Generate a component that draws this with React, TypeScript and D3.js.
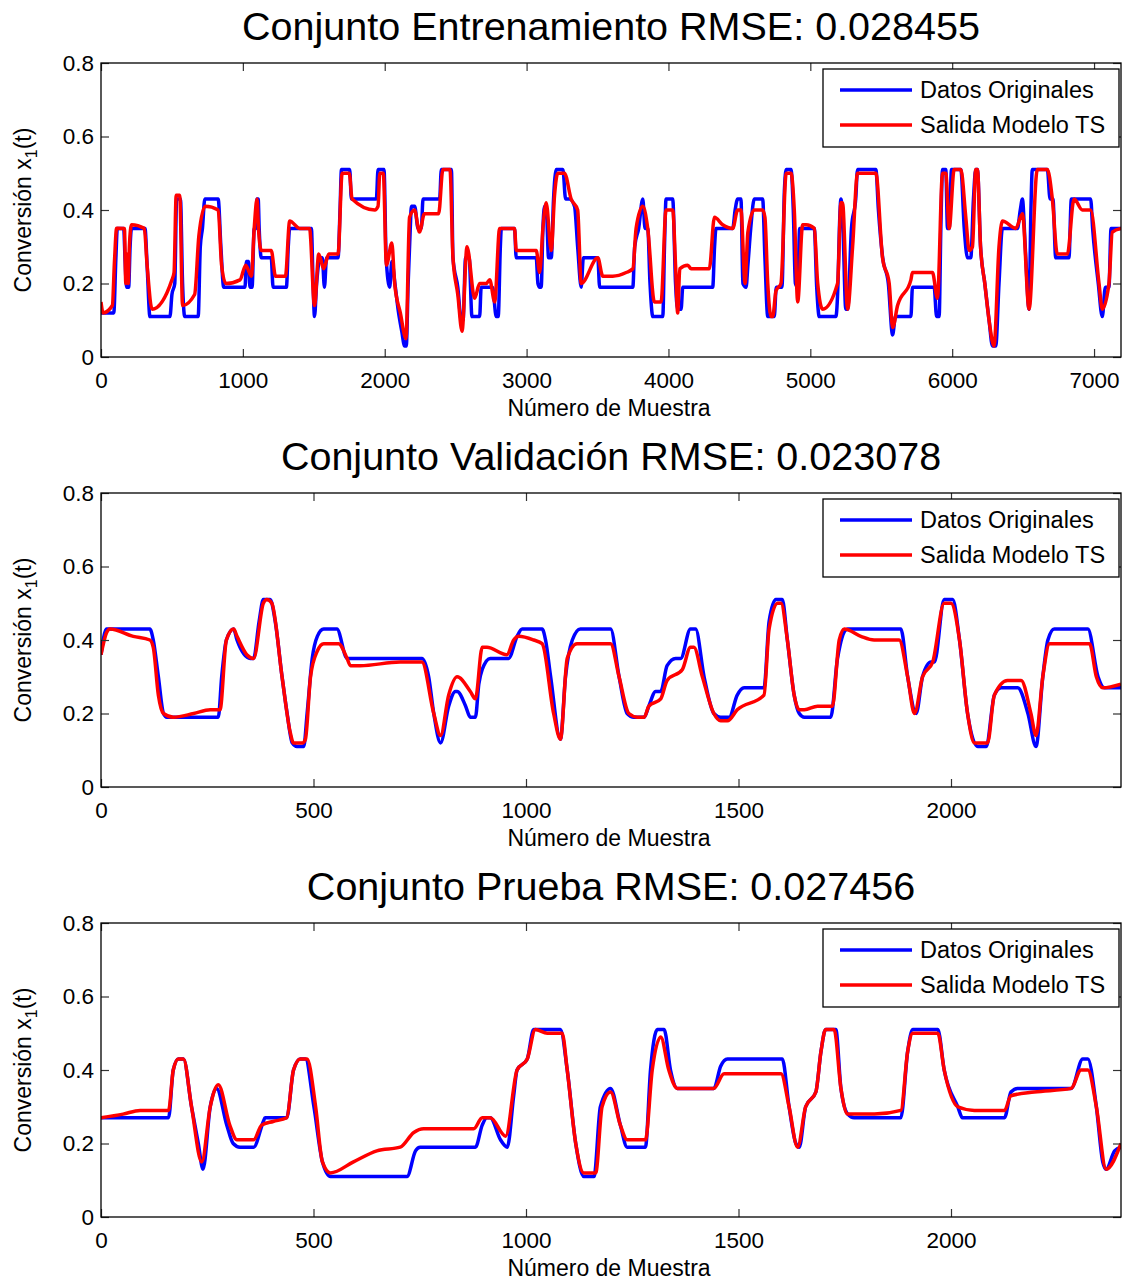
import React, { useEffect, useRef } from 'react'
import * as d3 from 'd3'

type Pt = [number, number]

// tick values / labels
const yTicks = [0, 0.2, 0.4, 0.6, 0.8]
const trainTicks = [0, 1000, 2000, 3000, 4000, 5000, 6000, 7000]
const shortTicks = [0, 500, 1000, 1500, 2000]
const legendLabels = ['Datos Originales', 'Salida Modelo TS']
const titles = [
  'Conjunto Entrenamiento RMSE: 0.028455',
  'Conjunto Validación RMSE: 0.023078',
  'Conjunto Prueba RMSE: 0.027456',
]
const xLabel = 'Número de Muestra'

// [sample, conversion]
const trainOriginal: Pt[] = [
  [0, 0.12], [90, 0.12], [105, 0.27], [115, 0.35], [160, 0.35], [170, 0.26], [180, 0.19], [195, 0.19], [205, 0.3], [215, 0.35],
  [310, 0.35], [325, 0.25], [345, 0.11], [486, 0.11], [500, 0.17], [520, 0.2], [533, 0.43], [560, 0.43], [575, 0.2], [590, 0.11],
  [685, 0.11], [700, 0.3], [715, 0.35], [732, 0.43], [826, 0.43], [845, 0.3], [865, 0.19], [1015, 0.19], [1025, 0.26], [1040, 0.26],
  [1050, 0.19], [1065, 0.19], [1080, 0.35], [1095, 0.35], [1100, 0.43], [1108, 0.43], [1115, 0.35], [1130, 0.27], [1200, 0.27],
  [1213, 0.19], [1307, 0.19], [1320, 0.3], [1330, 0.35], [1483, 0.35], [1495, 0.2], [1505, 0.11], [1520, 0.2], [1545, 0.27],
  [1560, 0.27], [1575, 0.19], [1590, 0.27], [1671, 0.27], [1685, 0.4], [1695, 0.51], [1753, 0.51], [1765, 0.43], [1941, 0.43],
  [1953, 0.51], [1995, 0.51], [2010, 0.27], [2035, 0.19], [2050, 0.26], [2075, 0.19], [2094, 0.13], [2120, 0.07], [2140, 0.03],
  [2152, 0.03], [2165, 0.2], [2180, 0.35], [2188, 0.41], [2211, 0.41], [2235, 0.35], [2258, 0.35], [2270, 0.43], [2387, 0.43],
  [2399, 0.51], [2470, 0.51], [2481, 0.27], [2515, 0.19], [2540, 0.1], [2552, 0.1], [2570, 0.27], [2595, 0.27], [2615, 0.11],
  [2669, 0.11], [2680, 0.19], [2760, 0.19], [2786, 0.11], [2800, 0.11], [2815, 0.3], [2822, 0.35], [2915, 0.35], [2927, 0.27],
  [3068, 0.27], [3080, 0.2], [3092, 0.19], [3103, 0.19], [3115, 0.35], [3127, 0.41], [3138, 0.41], [3155, 0.27], [3174, 0.27],
  [3190, 0.43], [3209, 0.51], [3256, 0.51], [3275, 0.43], [3303, 0.43], [3338, 0.41], [3360, 0.3], [3385, 0.19], [3400, 0.27],
  [3502, 0.27], [3515, 0.19], [3749, 0.19], [3762, 0.3], [3790, 0.35], [3819, 0.43], [3835, 0.35], [3854, 0.35], [3870, 0.2],
  [3890, 0.11], [3960, 0.11], [3972, 0.3], [3983, 0.43], [4030, 0.43], [4050, 0.2], [4065, 0.13], [4089, 0.13], [4101, 0.19],
  [4312, 0.19], [4325, 0.3], [4335, 0.35], [4453, 0.35], [4470, 0.4], [4488, 0.43], [4511, 0.43], [4525, 0.2], [4547, 0.19],
  [4560, 0.25], [4580, 0.35], [4605, 0.43], [4664, 0.43], [4680, 0.27], [4700, 0.11], [4746, 0.11], [4760, 0.19], [4800, 0.19],
  [4817, 0.45], [4830, 0.51], [4864, 0.51], [4880, 0.4], [4895, 0.2], [4911, 0.19], [4925, 0.35], [5028, 0.35], [5045, 0.19],
  [5063, 0.11], [5180, 0.11], [5195, 0.2], [5205, 0.35], [5216, 0.43], [5230, 0.35], [5250, 0.13], [5263, 0.13], [5290, 0.35],
  [5320, 0.43], [5333, 0.51], [5462, 0.51], [5480, 0.4], [5510, 0.27], [5550, 0.2], [5580, 0.06], [5600, 0.11], [5709, 0.11],
  [5720, 0.19], [5873, 0.19], [5890, 0.11], [5908, 0.11], [5920, 0.35], [5932, 0.51], [5955, 0.51], [5967, 0.35], [5979, 0.35],
  [5995, 0.51], [6061, 0.51], [6085, 0.35], [6108, 0.27], [6131, 0.27], [6150, 0.43], [6166, 0.51], [6178, 0.51], [6200, 0.3],
  [6230, 0.2], [6260, 0.1], [6284, 0.03], [6307, 0.03], [6330, 0.2], [6354, 0.35], [6460, 0.35], [6480, 0.4], [6495, 0.43],
  [6515, 0.3], [6542, 0.13], [6555, 0.4], [6565, 0.51], [6671, 0.51], [6690, 0.43], [6710, 0.43], [6730, 0.27], [6823, 0.27],
  [6840, 0.43], [6976, 0.43], [6990, 0.35], [7030, 0.2], [7058, 0.11], [7080, 0.19], [7105, 0.19], [7120, 0.35], [7190, 0.35],
]

const trainModel: Pt[] = [
  [0, 0.15], [15, 0.12], [80, 0.14], [95, 0.26], [110, 0.35], [165, 0.35], [175, 0.2], [182, 0.28], [192, 0.2], [200, 0.3],
  [215, 0.36], [305, 0.35], [325, 0.25], [360, 0.13], [500, 0.21], [515, 0.23], [530, 0.44], [555, 0.44], [575, 0.14], [660, 0.17],
  [690, 0.33], [735, 0.41], [826, 0.4], [850, 0.25], [880, 0.2], [980, 0.21], [1020, 0.25], [1060, 0.22], [1080, 0.35], [1100, 0.43],
  [1110, 0.35], [1130, 0.29], [1200, 0.29], [1230, 0.22], [1300, 0.22], [1330, 0.37], [1400, 0.35], [1470, 0.35], [1505, 0.14],
  [1535, 0.28], [1570, 0.24], [1605, 0.28], [1671, 0.28], [1700, 0.5], [1750, 0.5], [1770, 0.43], [1930, 0.4], [1953, 0.41],
  [1965, 0.5], [1990, 0.5], [2012, 0.25], [2050, 0.31], [2070, 0.2], [2110, 0.12], [2150, 0.05], [2175, 0.38], [2210, 0.4],
  [2245, 0.34], [2280, 0.39], [2380, 0.39], [2410, 0.51], [2460, 0.51], [2481, 0.27], [2515, 0.17], [2545, 0.07], [2580, 0.3],
  [2634, 0.16], [2669, 0.2], [2716, 0.2], [2740, 0.21], [2775, 0.15], [2810, 0.35], [2915, 0.35], [2927, 0.29], [3068, 0.29],
  [3092, 0.23], [3115, 0.35], [3138, 0.42], [3174, 0.29], [3197, 0.44], [3220, 0.5], [3267, 0.5], [3314, 0.43], [3360, 0.4],
  [3385, 0.2], [3502, 0.27], [3537, 0.22], [3607, 0.22], [3702, 0.23], [3749, 0.24], [3772, 0.35], [3819, 0.41], [3854, 0.35],
  [3901, 0.15], [3948, 0.15], [3983, 0.4], [4030, 0.4], [4050, 0.25], [4065, 0.12], [4080, 0.24], [4136, 0.25], [4160, 0.24],
  [4288, 0.24], [4324, 0.38], [4382, 0.36], [4453, 0.35], [4488, 0.4], [4511, 0.4], [4540, 0.2], [4560, 0.34], [4605, 0.4],
  [4664, 0.4], [4680, 0.38], [4700, 0.2], [4723, 0.11], [4735, 0.11], [4758, 0.18], [4793, 0.2], [4830, 0.5], [4864, 0.5],
  [4887, 0.4], [4911, 0.15], [4946, 0.36], [4970, 0.36], [5028, 0.35], [5052, 0.2], [5087, 0.13], [5192, 0.2], [5216, 0.42],
  [5227, 0.42], [5263, 0.13], [5298, 0.3], [5333, 0.5], [5462, 0.5], [5509, 0.27], [5556, 0.2], [5580, 0.08], [5615, 0.14],
  [5709, 0.21], [5720, 0.23], [5861, 0.23], [5896, 0.16], [5932, 0.5], [5955, 0.5], [5979, 0.35], [6014, 0.51], [6061, 0.51],
  [6096, 0.38], [6120, 0.29], [6143, 0.3], [6166, 0.51], [6178, 0.51], [6200, 0.3], [6230, 0.2], [6260, 0.1], [6295, 0.03],
  [6330, 0.3], [6354, 0.37], [6448, 0.35], [6495, 0.39], [6542, 0.13], [6600, 0.51], [6671, 0.51], [6706, 0.43], [6741, 0.28],
  [6812, 0.28], [6859, 0.43], [6918, 0.4], [6976, 0.4], [7035, 0.2], [7058, 0.13], [7105, 0.2], [7129, 0.34], [7190, 0.35],
]

const valOriginal: Pt[] = [
  [0, 0.36], [13, 0.43], [115, 0.43], [123, 0.4], [135, 0.3], [147, 0.2], [155, 0.19], [276, 0.19], [284, 0.3], [295, 0.4],
  [312, 0.43], [320, 0.4], [351, 0.35], [359, 0.35], [372, 0.45], [382, 0.51], [398, 0.51], [410, 0.45], [426, 0.3], [438, 0.2],
  [450, 0.12], [461, 0.11], [477, 0.11], [485, 0.2], [497, 0.35], [509, 0.41], [524, 0.43], [555, 0.43], [579, 0.35], [755, 0.35],
  [771, 0.3], [783, 0.2], [799, 0.12], [818, 0.22], [834, 0.26], [838, 0.26], [858, 0.22], [869, 0.19], [881, 0.19], [889, 0.28],
  [897, 0.32], [916, 0.35], [959, 0.35], [979, 0.41], [991, 0.43], [1038, 0.43], [1046, 0.4], [1058, 0.3], [1081, 0.13],
  [1093, 0.3], [1109, 0.4], [1128, 0.43], [1199, 0.43], [1219, 0.3], [1238, 0.2], [1254, 0.19], [1278, 0.19], [1289, 0.22],
  [1305, 0.26], [1317, 0.26], [1332, 0.33], [1352, 0.35], [1364, 0.35], [1387, 0.43], [1399, 0.43], [1419, 0.3], [1442, 0.2],
  [1458, 0.19], [1478, 0.19], [1497, 0.25], [1513, 0.27], [1560, 0.27], [1572, 0.45], [1588, 0.51], [1603, 0.51], [1615, 0.4],
  [1631, 0.25], [1643, 0.2], [1655, 0.19], [1717, 0.19], [1733, 0.35], [1757, 0.43], [1882, 0.43], [1898, 0.3], [1918, 0.2],
  [1933, 0.3], [1953, 0.34], [1961, 0.34], [1984, 0.51], [2004, 0.51], [2020, 0.4], [2039, 0.2], [2063, 0.11], [2083, 0.11],
  [2102, 0.25], [2118, 0.27], [2157, 0.27], [2181, 0.2], [2200, 0.11], [2216, 0.3], [2228, 0.4], [2243, 0.43], [2322, 0.43],
  [2346, 0.3], [2361, 0.27], [2400, 0.27],
]

const valModel: Pt[] = [
  [0, 0.36], [13, 0.42], [21, 0.43], [76, 0.41], [115, 0.4], [123, 0.38], [135, 0.25], [147, 0.2], [170, 0.19], [218, 0.2],
  [257, 0.21], [280, 0.21], [295, 0.4], [312, 0.43], [320, 0.41], [343, 0.36], [359, 0.35], [382, 0.5], [390, 0.51], [402, 0.5],
  [426, 0.3], [445, 0.15], [453, 0.12], [474, 0.12], [481, 0.13], [493, 0.3], [509, 0.37], [524, 0.39], [559, 0.39], [579, 0.35],
  [587, 0.33], [610, 0.33], [704, 0.34], [755, 0.34], [783, 0.2], [799, 0.14], [818, 0.25], [838, 0.3], [869, 0.26], [881, 0.24],
  [897, 0.38], [908, 0.38], [955, 0.36], [971, 0.4], [983, 0.41], [1018, 0.4], [1038, 0.39], [1065, 0.2], [1081, 0.13],
  [1097, 0.35], [1120, 0.39], [1199, 0.39], [1219, 0.3], [1242, 0.2], [1262, 0.19], [1278, 0.19], [1289, 0.22], [1317, 0.24],
  [1332, 0.29], [1368, 0.32], [1387, 0.38], [1395, 0.38], [1415, 0.3], [1442, 0.2], [1458, 0.18], [1474, 0.18], [1497, 0.21],
  [1560, 0.25], [1572, 0.43], [1592, 0.5], [1600, 0.5], [1615, 0.4], [1631, 0.25], [1643, 0.21], [1655, 0.21], [1686, 0.22],
  [1721, 0.22], [1737, 0.4], [1749, 0.43], [1788, 0.41], [1819, 0.4], [1878, 0.4], [1898, 0.3], [1914, 0.2], [1933, 0.3],
  [1957, 0.34], [1984, 0.5], [2000, 0.5], [2020, 0.4], [2039, 0.2], [2055, 0.12], [2086, 0.12], [2102, 0.25], [2133, 0.29],
  [2165, 0.29], [2188, 0.2], [2200, 0.14], [2216, 0.3], [2232, 0.39], [2326, 0.39], [2342, 0.3], [2357, 0.27], [2400, 0.28],
]

const testOriginal: Pt[] = [
  [0, 0.27], [159, 0.27], [170, 0.4], [182, 0.43], [194, 0.43], [213, 0.3], [229, 0.2], [240, 0.13], [257, 0.3], [272, 0.35],
  [296, 0.25], [311, 0.2], [327, 0.19], [359, 0.19], [382, 0.26], [386, 0.27], [437, 0.27], [453, 0.4], [469, 0.43], [481, 0.43],
  [501, 0.3], [521, 0.15], [540, 0.11], [720, 0.11], [740, 0.18], [751, 0.19], [881, 0.19], [897, 0.25], [908, 0.27], [916, 0.27],
  [940, 0.21], [956, 0.19], [971, 0.33], [979, 0.4], [1003, 0.43], [1018, 0.51], [1081, 0.51], [1097, 0.4], [1117, 0.2],
  [1136, 0.11], [1160, 0.11], [1175, 0.3], [1199, 0.35], [1222, 0.25], [1238, 0.19], [1281, 0.19], [1293, 0.4], [1309, 0.51],
  [1325, 0.51], [1340, 0.4], [1356, 0.35], [1442, 0.35], [1458, 0.41], [1474, 0.43], [1603, 0.43], [1619, 0.3], [1635, 0.2],
  [1643, 0.19], [1658, 0.3], [1682, 0.34], [1694, 0.45], [1705, 0.51], [1729, 0.51], [1741, 0.35], [1757, 0.28], [1772, 0.27],
  [1882, 0.27], [1898, 0.45], [1910, 0.51], [1969, 0.51], [1984, 0.4], [2016, 0.3], [2027, 0.27], [2126, 0.27], [2141, 0.34],
  [2157, 0.35], [2283, 0.35], [2310, 0.43], [2322, 0.43], [2342, 0.3], [2357, 0.15], [2365, 0.13], [2385, 0.18], [2400, 0.19],
]

const testModel: Pt[] = [
  [0, 0.27], [52, 0.28], [92, 0.29], [159, 0.29], [170, 0.4], [182, 0.43], [194, 0.43], [213, 0.3], [237, 0.15], [257, 0.3],
  [276, 0.36], [303, 0.25], [320, 0.21], [359, 0.21], [378, 0.25], [405, 0.26], [437, 0.27], [453, 0.4], [469, 0.43], [485, 0.43],
  [505, 0.3], [521, 0.15], [540, 0.12], [594, 0.15], [649, 0.18], [704, 0.19], [736, 0.23], [759, 0.24], [877, 0.24], [897, 0.27],
  [916, 0.27], [952, 0.22], [979, 0.4], [1003, 0.43], [1022, 0.51], [1050, 0.5], [1085, 0.5], [1097, 0.4], [1117, 0.2],
  [1136, 0.12], [1164, 0.12], [1179, 0.3], [1199, 0.34], [1222, 0.25], [1238, 0.21], [1281, 0.21], [1297, 0.4], [1317, 0.49],
  [1336, 0.4], [1356, 0.35], [1442, 0.35], [1466, 0.39], [1600, 0.39], [1619, 0.3], [1639, 0.19], [1658, 0.3], [1682, 0.34],
  [1694, 0.45], [1705, 0.51], [1725, 0.51], [1741, 0.35], [1757, 0.28], [1820, 0.28], [1882, 0.29], [1898, 0.45], [1910, 0.5],
  [1969, 0.5], [1984, 0.4], [2016, 0.3], [2055, 0.29], [2126, 0.29], [2141, 0.33], [2196, 0.34], [2283, 0.35], [2306, 0.4],
  [2322, 0.4], [2342, 0.3], [2365, 0.13], [2400, 0.2],
]

const W = 1122
const H = 1281
const LEFT = 101
const RIGHT = 1121
const PH = 294
const FONT = '"Liberation Sans", Arial, Helvetica, sans-serif'

const panels = [
  { title: titles[0], top: 63, xMax: 7190, ticks: trainTicks, orig: trainOriginal, model: trainModel },
  { title: titles[1], top: 493, xMax: 2400, ticks: shortTicks, orig: valOriginal, model: valModel },
  { title: titles[2], top: 923, xMax: 2400, ticks: shortTicks, orig: testOriginal, model: testModel },
]

function drawPanel(svg: any, p: any, i: number) {
  const x = d3.scaleLinear().domain([0, p.xMax]).range([LEFT, RIGHT])
  const y = d3.scaleLinear().domain([0, 0.8]).range([p.top + PH, p.top])
  const g = svg.append('g')

  const clipId = `clip${i}`
  g.append('clipPath').attr('id', clipId)
    .append('rect').attr('x', LEFT).attr('y', p.top).attr('width', RIGHT - LEFT).attr('height', PH)

  // smooth but flat on the plateaus, like the sampled signal
  const line = d3.line<Pt>().x((d) => x(d[0])).y((d) => y(d[1])).curve(d3.curveMonotoneX)
  const lines = g.append('g').attr('clip-path', `url(#${clipId})`)
  lines.append('path').attr('d', line(p.orig)).attr('fill', 'none')
    .attr('stroke', '#0000ff').attr('stroke-width', 3.5).attr('stroke-linejoin', 'round')
  lines.append('path').attr('d', line(p.model)).attr('fill', 'none')
    .attr('stroke', '#ff0000').attr('stroke-width', 3.5).attr('stroke-linejoin', 'round')

  const styleAxis = (a: any, labels: boolean) => {
    a.select('.domain').remove()
    a.selectAll('line').attr('stroke', '#333').attr('stroke-width', 1.2)
    a.attr('font-family', FONT).attr('font-size', 22.5)
    if (!labels) a.selectAll('text').remove()
    else a.selectAll('text').attr('fill', '#000')
  }

  styleAxis(g.append('g').attr('transform', `translate(0,${p.top + PH})`)
    .call(d3.axisBottom(x).tickValues(p.ticks).tickSize(-8).tickPadding(15).tickFormat(d3.format('d'))), true)
  styleAxis(g.append('g').attr('transform', `translate(0,${p.top})`)
    .call(d3.axisTop(x).tickValues(p.ticks).tickSize(-8)), false)
  styleAxis(g.append('g').attr('transform', `translate(${LEFT},0)`)
    .call(d3.axisLeft(y).tickValues(yTicks).tickSize(-8).tickPadding(7).tickFormat((d: any) => String(+d.toFixed(1)))), true)
  styleAxis(g.append('g').attr('transform', `translate(${RIGHT},0)`)
    .call(d3.axisRight(y).tickValues(yTicks).tickSize(-8)), false)

  g.append('rect').attr('x', LEFT).attr('y', p.top).attr('width', RIGHT - LEFT).attr('height', PH)
    .attr('fill', 'none').attr('stroke', '#000').attr('stroke-width', 1.3)

  // title and axis labels
  g.append('text').attr('x', (LEFT + RIGHT) / 2).attr('y', p.top - 23).attr('text-anchor', 'middle')
    .attr('font-size', 39.5).text(p.title)
  g.append('text').attr('x', 609).attr('y', p.top + PH + 59).attr('text-anchor', 'middle')
    .attr('font-size', 23).text(xLabel)
  const yl = g.append('text').attr('transform', `translate(31,${p.top + PH / 2}) rotate(-90)`)
    .attr('text-anchor', 'middle').attr('font-size', 23)
  yl.append('tspan').text('Conversión x')
  yl.append('tspan').attr('font-size', 16).attr('dy', 6).text('1')
  yl.append('tspan').attr('dy', -6).text('(t)')

  // legend
  const lx = 823
  const ly = p.top + 6
  const leg = g.append('g')
  leg.append('rect').attr('x', lx).attr('y', ly).attr('width', 296).attr('height', 78)
    .attr('fill', '#fff').attr('stroke', '#000').attr('stroke-width', 1.3)
  const colors = ['#0000ff', '#ff0000']
  legendLabels.forEach((lab, k) => {
    const yy = ly + 21 + k * 35
    leg.append('line').attr('x1', lx + 17).attr('x2', lx + 89).attr('y1', yy).attr('y2', yy)
      .attr('stroke', colors[k]).attr('stroke-width', 3.5)
    leg.append('text').attr('x', lx + 97).attr('y', yy).attr('dy', '0.35em')
      .attr('font-size', 23.5).text(lab)
  })
}

export default function App() {
  const ref = useRef<SVGSVGElement>(null)

  useEffect(() => {
    const svg = d3.select(ref.current)
    svg.selectAll('*').remove()
    panels.forEach((p, i) => drawPanel(svg, p, i))
  }, [])

  return (
    <svg
      ref={ref}
      width={W}
      height={H}
      fontFamily={FONT}
      style={{ position: 'absolute', left: 0, top: 0, background: '#fff' }}
    />
  )
}
